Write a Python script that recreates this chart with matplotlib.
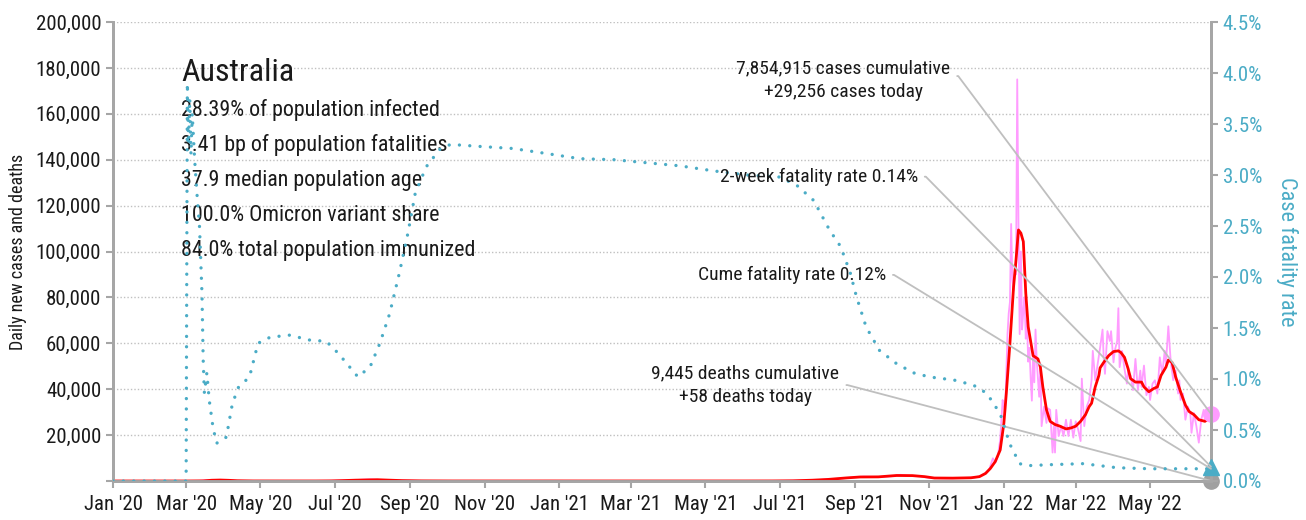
import matplotlib
matplotlib.use("Agg")
import matplotlib.pyplot as plt
import matplotlib.dates as mdates
import matplotlib.ticker as mticker
from matplotlib import font_manager
import pandas as pd

# 7-day average of new cases
avg_dates = ["2020-01-01", "2020-03-01", "2020-03-15", "2020-03-22", "2020-03-29", "2020-04-05", "2020-04-12",
             "2020-04-25", "2020-05-20", "2020-06-15", "2020-06-28", "2020-07-07", "2020-07-18", "2020-07-28",
             "2020-08-05", "2020-08-14", "2020-08-25", "2020-09-10", "2020-10-05", "2020-12-01", "2020-12-24",
             "2021-01-15", "2021-06-01", "2021-06-25", "2021-07-12", "2021-07-28", "2021-08-10", "2021-08-25",
             "2021-09-05", "2021-09-20", "2021-10-05", "2021-10-18", "2021-10-28", "2021-11-05", "2021-11-20",
             "2021-12-05", "2021-12-12", "2021-12-17", "2021-12-21", "2021-12-25", "2021-12-29", "2022-01-01",
             "2022-01-03", "2022-01-06", "2022-01-09", "2022-01-11", "2022-01-13", "2022-01-15", "2022-01-17",
             "2022-01-19", "2022-01-21", "2022-01-25", "2022-01-29", "2022-01-31", "2022-02-02", "2022-02-05",
             "2022-02-08", "2022-02-12", "2022-02-16", "2022-02-21", "2022-02-25", "2022-03-01", "2022-03-05",
             "2022-03-09", "2022-03-12", "2022-03-14", "2022-03-17", "2022-03-20", "2022-03-21", "2022-03-24",
             "2022-03-28", "2022-04-01", "2022-04-05", "2022-04-07", "2022-04-10", "2022-04-13", "2022-04-15",
             "2022-04-19", "2022-04-24", "2022-04-26", "2022-04-30", "2022-05-04", "2022-05-07", "2022-05-10",
             "2022-05-14", "2022-05-16", "2022-05-19", "2022-05-22", "2022-05-26", "2022-05-30", "2022-06-02",
             "2022-06-06", "2022-06-10", "2022-06-15", "2022-06-17", "2022-06-20"]
avg_cases = [0, 2, 60, 330, 420, 300, 120,
             25, 15, 12, 50, 170, 360, 480,
             560, 380, 180, 55, 15, 10, 20,
             12, 10, 25, 90, 350, 700, 1350,
             1750, 1800, 2400, 2350, 1900, 1300, 1250,
             1400, 1900, 3300, 5500, 8500, 13500, 25000,
             38000, 60000, 84700, 96300, 109400, 108000, 104300,
             81900, 67200, 54600, 53200, 49600, 41000, 31000,
             26000, 24600, 23900, 22700, 23100, 23900, 26000,
             28900, 32400, 33900, 41000, 46000, 49300, 51700,
             54600, 56400, 56700, 56000, 53900, 48900, 44600,
             43100, 43100, 41000, 38900, 40300, 41000, 46000,
             49600, 52700, 51700, 45300, 38900, 33100, 30300,
             28900, 26700, 26000, 26700, 28100]

# reported daily new cases (pink)
daily_dates = ["2020-01-01", "2020-03-01", "2020-03-12", "2020-03-20", "2020-03-27", "2020-04-03", "2020-04-12",
               "2020-04-30", "2020-06-15", "2020-07-01", "2020-07-15", "2020-07-30", "2020-08-05", "2020-08-15",
               "2020-08-28", "2020-09-15", "2020-10-15", "2021-06-01", "2021-07-01", "2021-07-20", "2021-08-01",
               "2021-08-15", "2021-08-29", "2021-09-08", "2021-09-20", "2021-10-01", "2021-10-08", "2021-10-15",
               "2021-10-24", "2021-11-01", "2021-11-15", "2021-11-28", "2021-12-08", "2021-12-13", "2021-12-17",
               "2021-12-20", "2021-12-23", "2021-12-25", "2021-12-27", "2021-12-29", "2021-12-30", "2021-12-31",
               "2022-01-01", "2022-01-02", "2022-01-03", "2022-01-04", "2022-01-05", "2022-01-06", "2022-01-07",
               "2022-01-08", "2022-01-09", "2022-01-10", "2022-01-11", "2022-01-12", "2022-01-13", "2022-01-14",
               "2022-01-15", "2022-01-16", "2022-01-17", "2022-01-18", "2022-01-19", "2022-01-20", "2022-01-21",
               "2022-01-22", "2022-01-23", "2022-01-24", "2022-01-25", "2022-01-26", "2022-01-27", "2022-01-28",
               "2022-01-30", "2022-01-31", "2022-02-01", "2022-02-03", "2022-02-05", "2022-02-06", "2022-02-08",
               "2022-02-10", "2022-02-11", "2022-02-12", "2022-02-13", "2022-02-15", "2022-02-17", "2022-02-19",
               "2022-02-21", "2022-02-23", "2022-02-25", "2022-02-27", "2022-03-01", "2022-03-03", "2022-03-05",
               "2022-03-06", "2022-03-08", "2022-03-10", "2022-03-12", "2022-03-14", "2022-03-15", "2022-03-17",
               "2022-03-19", "2022-03-21", "2022-03-23", "2022-03-24", "2022-03-25", "2022-03-27", "2022-03-29",
               "2022-03-30", "2022-04-01", "2022-04-02", "2022-04-04", "2022-04-05", "2022-04-06", "2022-04-08",
               "2022-04-10", "2022-04-12", "2022-04-13", "2022-04-15", "2022-04-17", "2022-04-19", "2022-04-21",
               "2022-04-23", "2022-04-24", "2022-04-26", "2022-04-28", "2022-04-30", "2022-05-01", "2022-05-03",
               "2022-05-05", "2022-05-07", "2022-05-09", "2022-05-11", "2022-05-13", "2022-05-14", "2022-05-16",
               "2022-05-18", "2022-05-20", "2022-05-22", "2022-05-24", "2022-05-25", "2022-05-26", "2022-05-28",
               "2022-05-30", "2022-06-01", "2022-06-03", "2022-06-04", "2022-06-06", "2022-06-08", "2022-06-10",
               "2022-06-12", "2022-06-14", "2022-06-15", "2022-06-17", "2022-06-19", "2022-06-20"]
daily_cases = [0, 0, 40, 400, 470, 280, 60,
               15, 15, 80, 350, 700, 480, 330,
               120, 30, 10, 10, 30, 150, 400,
               900, 1500, 1900, 1700, 2100, 2700, 2200,
               2100, 1300, 1200, 1300, 1500, 2200, 3500,
               5000, 9900, 8000, 10600, 18000, 26600, 35300,
               33000, 29000, 47000, 64000, 73000, 78000, 112000,
               88000, 83000, 92000, 90000, 175000, 113000, 64000,
               100000, 66000, 74000, 80000, 62000, 70000, 52000,
               58000, 45000, 35000, 55000, 43000, 66000, 52400,
               36700, 51000, 23900, 32400, 25300, 31700, 31000,
               12400, 23900, 12400, 31000, 19600, 23900, 19600,
               26700, 19600, 26700, 18900, 26000, 22400, 17400,
               44600, 23900, 32400, 35300, 43900, 56700, 43900,
               51000, 58100, 66000, 53200, 46700, 65300, 61000,
               65300, 51700, 56700, 61000, 75300, 49600, 56700,
               48900, 42400, 48100, 46000, 39600, 53200, 39600,
               48100, 41000, 50300, 37400, 41000, 35300, 42400,
               43900, 38100, 53900, 46700, 56700, 51000, 67400,
               51700, 43900, 48100, 38100, 43900, 35300, 38100,
               26700, 32400, 29600, 21000, 29600, 23900, 16700,
               26700, 31000, 26700, 29600, 28100, 29256]

# daily deaths (grey, hugs the baseline)
death_dates = ["2020-01-01", "2020-03-28", "2020-08-10", "2020-10-01", "2021-08-01", "2021-10-05",
               "2021-12-01", "2022-01-20", "2022-03-01", "2022-05-20", "2022-06-20"]
daily_deaths = [0, 5, 20, 2, 2, 15, 5, 80, 30, 50, 58]

# cumulative case fatality rate, percent (teal dotted, right axis)
cfr_dates = ["2020-01-01", "2020-03-01", "2020-03-02", "2020-03-03", "2020-03-04", "2020-03-05", "2020-03-06",
             "2020-03-08", "2020-03-10", "2020-03-12", "2020-03-14", "2020-03-15", "2020-03-16", "2020-03-18",
             "2020-03-20", "2020-03-23", "2020-03-26", "2020-04-03", "2020-04-08", "2020-04-13", "2020-04-22",
             "2020-04-29", "2020-05-09", "2020-05-25", "2020-06-11", "2020-06-24", "2020-07-04", "2020-07-20",
             "2020-07-30", "2020-08-07", "2020-08-15", "2020-08-23", "2020-08-30", "2020-09-05", "2020-09-14",
             "2020-09-25", "2020-10-04", "2020-10-28", "2020-11-24", "2020-12-22", "2021-01-18", "2021-02-15",
             "2021-03-14", "2021-04-10", "2021-05-08", "2021-06-04", "2021-07-01", "2021-07-15", "2021-07-29",
             "2021-08-11", "2021-08-20", "2021-08-28", "2021-09-02", "2021-09-10", "2021-09-21", "2021-10-05",
             "2021-10-19", "2021-11-01", "2021-11-21", "2021-12-07", "2021-12-18", "2021-12-29", "2022-01-06",
             "2022-01-14", "2022-01-20", "2022-02-08", "2022-03-07", "2022-04-04", "2022-05-01", "2022-06-20"]
cfr_pct = [0, 0, 3.90, 3.30, 3.75, 3.20, 3.60,
           3.15, 2.80, 2.49, 1.84, 1.19, 0.86, 1.06,
           0.79, 0.53, 0.37, 0.43, 0.76, 0.92, 1.02,
           1.35, 1.41, 1.43, 1.38, 1.37, 1.25, 1.02,
           1.12, 1.35, 1.64, 2.04, 2.43, 2.82, 3.08,
           3.25, 3.30, 3.28, 3.26, 3.21, 3.16, 3.15,
           3.12, 3.09, 3.04, 3.00, 2.98, 2.90, 2.75,
           2.46, 2.30, 2.04, 1.81, 1.51, 1.28, 1.15,
           1.06, 1.02, 0.99, 0.94, 0.86, 0.66, 0.36,
           0.17, 0.15, 0.16, 0.17, 0.13, 0.12, 0.12]

country = "Australia"
stats = ["28.39% of population infected",
         "3.41 bp of population fatalities",
         "37.9 median population age",
         "100.0% Omicron variant share",
         "84.0% total population immunized"]
cases_label = "7,854,915 cases cumulative\n+29,256 cases today"
deaths_label = "9,445 deaths cumulative\n+58 deaths today"
fatality_2wk = 0.14
fatality_cume = 0.12

TEAL = "#4BACC6"
PINK = "#FF9CFF"
RED = "#FF0000"
AXIS_GREY = "#A6A6A6"
LEADER = "#BFBFBF"
TEXT = "#1A1A1A"


def pick_font():
    names = {f.name for f in font_manager.fontManager.ttflist}
    for fam in ["Liberation Sans Narrow", "Roboto Condensed", "Open Sans Condensed"]:
        if fam in names:
            return fam, "normal"
    return "DejaVu Sans", "condensed"


def leader(ax, text, xy, xytext, relpos=(1, 0.5), ha="right", arm=8):
    ax.annotate(text, xy=xy, xycoords="data", xytext=xytext, textcoords="axes fraction",
                ha=ha, va="center", multialignment="center", fontsize=14, color=TEXT, linespacing=1.45,
                arrowprops=dict(arrowstyle="-", color=LEADER, lw=1.3, shrinkA=3, shrinkB=0, relpos=relpos,
                                connectionstyle="arc,angleA=0,armA=%d,angleB=0,armB=0,rad=0" % arm),
                zorder=10)


def main():
    family, stretch = pick_font()
    plt.rcParams["font.family"] = [family, "DejaVu Sans"]
    plt.rcParams["font.stretch"] = stretch

    d_avg = pd.to_datetime(avg_dates)
    d_daily = pd.to_datetime(daily_dates)
    d_death = pd.to_datetime(death_dates)
    d_cfr = pd.to_datetime(cfr_dates)
    end = d_daily[-1]

    fig = plt.figure(figsize=(13.06, 5.2), dpi=100)
    ax = fig.add_axes([113 / 1306, 39 / 520, 1098 / 1306, 459 / 520])
    ax2 = ax.twinx()

    ax.plot(d_daily, daily_cases, color=PINK, lw=1.3, zorder=3)
    ax.plot(d_avg, avg_cases, color=RED, lw=2, zorder=4)
    ax.plot(d_death, daily_deaths, color="#808080", lw=1, zorder=4)
    ax2.plot(d_cfr, cfr_pct, color=TEAL, lw=2.4, linestyle=(0, (0.01, 3.1)), dash_capstyle="round", zorder=3)

    ax.plot([end], [daily_cases[-1]], "o", color=PINK, ms=11, clip_on=False, zorder=6)
    ax.plot([end], [daily_deaths[-1]], "o", color="#A0A0A0", ms=11, clip_on=False, zorder=6)
    ax2.plot([end], [fatality_2wk], "^", color=TEAL, ms=11, clip_on=False, zorder=6)

    ax.set_xlim(pd.Timestamp("2020-01-01"), end)
    ax.set_ylim(0, 200000)
    ax2.set_ylim(0, 4.5)

    ax.xaxis.set_major_locator(mdates.MonthLocator(bymonth=[1, 3, 5, 7, 9, 11]))
    ax.xaxis.set_major_formatter(mdates.DateFormatter("%b '%y"))
    ax.yaxis.set_major_locator(mticker.MultipleLocator(20000))
    ax.yaxis.set_major_formatter(mticker.FuncFormatter(lambda v, p: "" if v == 0 else "{:,.0f}".format(v)))
    ax2.yaxis.set_major_locator(mticker.MultipleLocator(0.5))
    ax2.yaxis.set_major_formatter(mticker.FuncFormatter(lambda v, p: "%.1f%%" % v))

    ax.grid(axis="y", color="#C0C0C0", linestyle=(0, (1, 1.5)), lw=1)
    ax.set_axisbelow(True)
    for a in (ax, ax2):
        a.spines["top"].set_visible(False)
        for s in ("left", "right", "bottom"):
            a.spines[s].set_color(AXIS_GREY)
            a.spines[s].set_linewidth(2)
    ax.tick_params(axis="both", colors=AXIS_GREY, labelcolor=TEXT, labelsize=15, length=5, width=1.5)
    ax.tick_params(axis="x", pad=5)
    ax2.tick_params(axis="y", colors=AXIS_GREY, labelcolor=TEAL, labelsize=15, length=5, width=1.5)

    ax.set_ylabel("Daily new cases and deaths", fontsize=13, color=TEXT, labelpad=6)
    ax2.set_ylabel("Case fatality rate", fontsize=16, color=TEAL, rotation=270, labelpad=26)

    ax.text(0.062, 0.891, country, transform=ax.transAxes, fontsize=23, color=TEXT, va="center", zorder=10)
    for i, s in enumerate(stats):
        ax.text(0.062, 0.808 - i * 0.0765, s, transform=ax.transAxes, fontsize=15.8, color=TEXT,
                va="center", zorder=10)

    leader(ax, cases_label, (end, daily_cases[-1]), (0.665, 0.873), relpos=(1, 0.6), ha="center")
    leader(ax2, "2-week fatality rate 0.14%", (end, fatality_2wk), (0.733, 0.663))
    leader(ax2, "Cume fatality rate 0.12%", (end, fatality_cume), (0.704, 0.449))
    leader(ax, deaths_label, (end, daily_deaths[-1]), (0.576, 0.209), relpos=(1, 0.5), ha="center")

    fig.savefig("out.png", dpi=100)


if __name__ == "__main__":
    main()
